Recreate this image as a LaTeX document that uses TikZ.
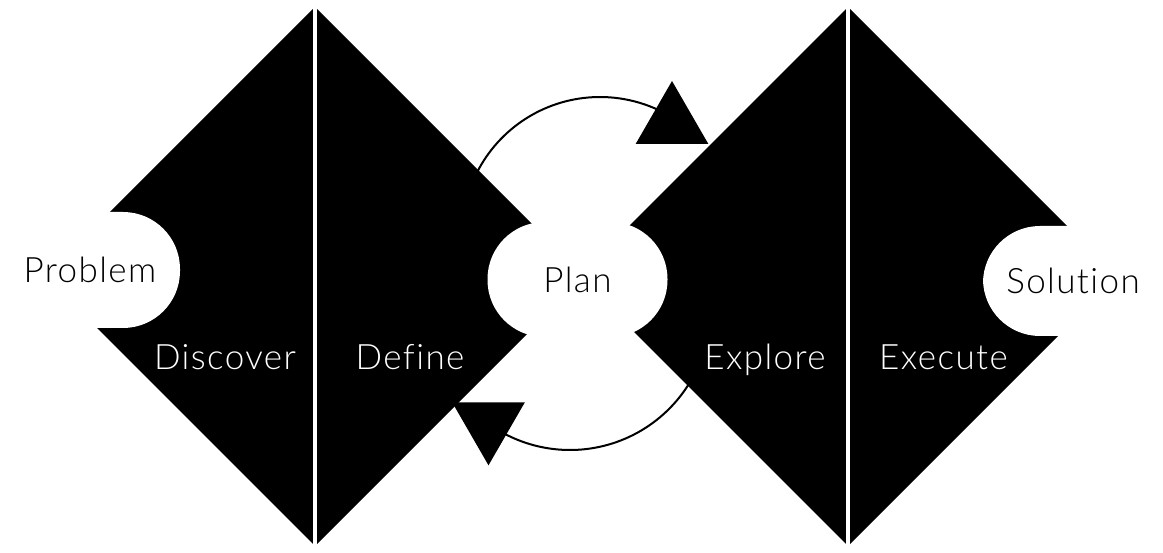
\documentclass[tikz,border=0pt]{standalone}
\usepackage{fontspec}
\setmainfont{Lato Light}[Ligatures=NoCommon,LetterSpace=4]
\usetikzlibrary{
  shapes,
  shapes.geometric,
  calc,
  positioning
}

\begin{document}
\begin{tikzpicture}[x=1pt,y=1pt,
    half/.style={diamond,fill=black,inner sep=0pt,outer sep=0pt,minimum width=539pt,minimum height=539pt},
    cut/.style={rectangle,rounded corners=57pt,fill=white,inner sep=0pt,minimum width=180pt,minimum height=116pt,font=\fontsize{35}{42}\selectfont},
    word/.style={white,anchor=base,font=\fontsize{35}{42}\selectfont},
    head/.style={regular polygon,regular polygon sides=3,fill=black,inner sep=0pt,minimum size=84pt},
    split/.style={white,line width=4.3pt},
    loop/.style={black,line width=2pt}]
    \useasboundingbox (0,0) rectangle (1163,-553);

    \coordinate (0) at ($(600,-235)+(155:138)$);
    \coordinate (00) at ($(570,-310)+(-20:140)$);
    \draw[loop] (0) arc[start angle=155,end angle=60,radius=138];
    \draw[loop] (00) arc[start angle=-20,end angle=-120,radius=140];

    \node[half] (1) at (315,-276.5) {};
    \node[half] (2) at (848,-276.5) {};
    \draw[split] (1.north) -- (1.south);
    \draw[split] (2.north) -- (2.south);

    \node[cut] (3) at (90,-270) {Problem};
    \node[cut,minimum height=115pt] (4) at (577.5,-279.5) {Plan};
    \node[cut,minimum height=110pt] (5) at (1073,-281) {Solution};

    \node[head] (6) at (672,-123) {};
    \node[head,shape border rotate=180] (7) at (488.5,-423.3) {};

    \node[word] (8) at (225,-370) {Discover};
    \node[word] (9) at (410,-370) {Define};
    \node[word] (10) at (765,-370) {Explore};
    \node[word] (11) at (943.5,-370) {Execute};
  \end{tikzpicture}
\end{document}
